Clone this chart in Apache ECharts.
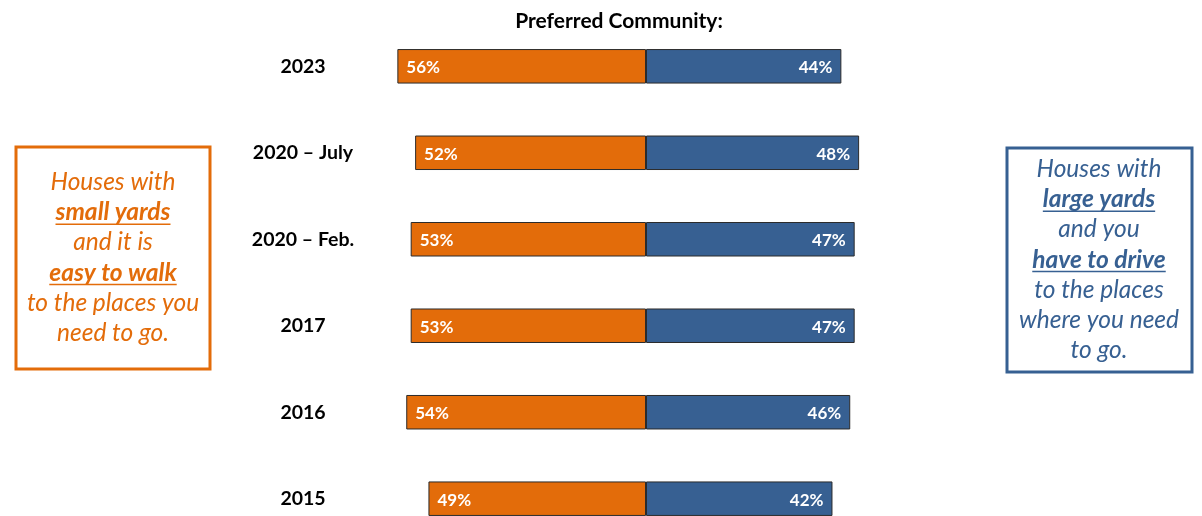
<!DOCTYPE html>
<html>
<head>
<meta charset="utf-8">
<title>Preferred Community</title>
<script src="https://cdn.jsdelivr.net/npm/echarts@6/dist/echarts.min.js"></script>
<style>
  html, body { margin: 0; padding: 0; background: #ffffff; }
  #chart { width: 1202px; height: 516px; }
</style>
</head>
<body>
<div id="chart"></div>
<script>
// Survey years, top to bottom
const years = ['2023', '2020 – July', '2020 – Feb.', '2017', '2016', '2015'];
// Share preferring small yards / walkable places (%)
const walkable = [56, 52, 53, 53, 54, 49];
// Share preferring large yards / driving (%)
const driving = [44, 48, 47, 47, 46, 42];

const ORANGE = '#E36C0A';
const BLUE = '#376092';
const FONT = 'Lato, "Open Sans", sans-serif';

const chart = echarts.init(document.getElementById('chart'), null, { renderer: 'canvas' });

// Callout box text lines; bold segments are underlined
const leftLines = [
  { t: 'Houses with', b: false },
  { t: 'small yards', b: true },
  { t: 'and it is', b: false },
  { t: 'easy to walk', b: true },
  { t: 'to the places you', b: false },
  { t: 'need to go.', b: false }
];
const rightLines = [
  { t: 'Houses with', b: false },
  { t: 'large yards', b: true },
  { t: 'and you', b: false },
  { t: 'have to drive', b: true },
  { t: 'to the places', b: false },
  { t: 'where you need', b: false },
  { t: 'to go.', b: false }
];

function measure(text, bold, size) {
  const c = document.createElement('canvas').getContext('2d');
  c.font = 'italic ' + (bold ? 'bold ' : '') + size + 'px ' + FONT;
  return c.measureText(text).width;
}

function calloutBox(x, y, w, h, cx, firstY, lines, color) {
  const els = [{
    type: 'rect',
    shape: { x: x, y: y, width: w, height: h },
    style: { fill: '#ffffff', stroke: color, lineWidth: 3 }
  }];
  const size = 24.5;
  lines.forEach(function (ln, i) {
    const ly = firstY + i * 30.2;
    els.push({
      type: 'text',
      style: {
        text: ln.t, x: cx, y: ly,
        align: 'center', verticalAlign: 'middle',
        fill: color,
        font: 'italic ' + (ln.b ? 'bold ' : '') + size + 'px ' + FONT
      }
    });
    if (ln.b) {
      const tw = measure(ln.t, true, size);
      els.push({
        type: 'line',
        shape: { x1: cx - tw / 2, y1: ly + 12, x2: cx + tw / 2, y2: ly + 12 },
        style: { stroke: color, lineWidth: 1.5 }
      });
    }
  });
  return els;
}

const option = {
  backgroundColor: '#ffffff',
  animation: false,
  title: {
    text: 'Preferred Community:',
    left: 614, top: 6,
    textAlign: 'center',
    textStyle: { fontFamily: FONT, fontWeight: 'bold', fontSize: 21, color: '#000000' }
  },
  // Category positions sit on the grid edges (boundaryGap off): first row at top, last at bottom
  grid: { left: 202, right: 112, top: 66.3, bottom: 17.3, containLabel: false },
  xAxis: {
    type: 'value', min: -100, max: 100,
    show: false
  },
  yAxis: {
    type: 'category',
    data: years,
    inverse: true,
    boundaryGap: false,
    axisLine: { show: false },
    axisTick: { show: false },
    splitLine: { show: false },
    axisLabel: {
      margin: -101,
      align: 'center',
      padding: [3, 0, 0, 0],
      fontFamily: FONT,
      fontWeight: 'bold',
      fontSize: 19.5,
      color: '#000000'
    }
  },
  series: [
    {
      name: 'Small yards, walkable',
      type: 'bar',
      stack: 'pref',
      barWidth: 34.5,
      clip: false,
      data: walkable.map(function (v) { return -v; }),
      itemStyle: { color: ORANGE, borderColor: '#2b2b2b', borderWidth: 1 },
      label: {
        show: true, position: 'insideLeft', distance: 9, offset: [0, 1.5],
        formatter: function (p) { return Math.abs(p.value) + '%'; },
        color: '#ffffff', fontFamily: FONT, fontWeight: 'bold', fontSize: 17
      }
    },
    {
      name: 'Large yards, driving',
      type: 'bar',
      stack: 'pref',
      barWidth: 34.5,
      clip: false,
      data: driving,
      itemStyle: { color: BLUE, borderColor: '#2b2b2b', borderWidth: 1 },
      label: {
        show: true, position: 'insideRight', distance: 9, offset: [0, 1.5],
        formatter: function (p) { return p.value + '%'; },
        color: '#ffffff', fontFamily: FONT, fontWeight: 'bold', fontSize: 17
      }
    }
  ],
  graphic: calloutBox(16, 147, 194, 222, 113, 182, leftLines, ORANGE)
    .concat(calloutBox(1007, 148, 185, 224, 1099, 169, rightLines, BLUE))
};

chart.setOption(option);
</script>
</body>
</html>
